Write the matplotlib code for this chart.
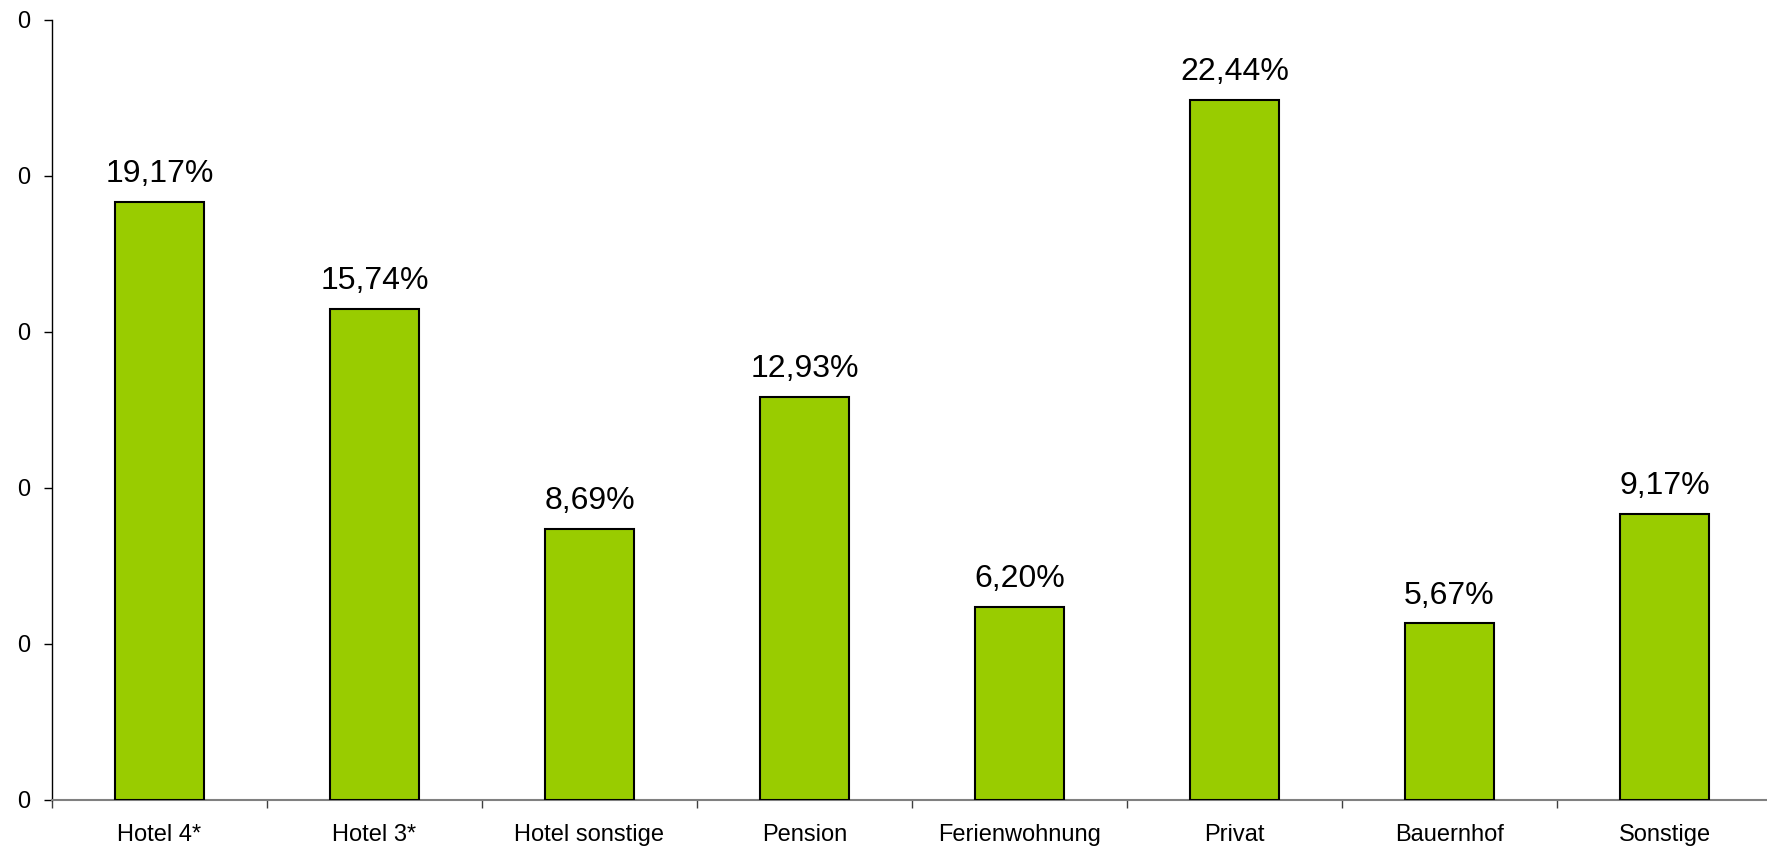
import matplotlib
matplotlib.use("Agg")
import matplotlib.pyplot as plt
from matplotlib.ticker import FixedLocator, FuncFormatter
import numpy as np

categories = ["Hotel 4*", "Hotel 3*", "Hotel sonstige", "Pension", "Ferienwohnung", "Privat", "Bauernhof", "Sonstige"]
values = [19.17, 15.74, 8.69, 12.93, 6.20, 22.44, 5.67, 9.17]
value_labels = ["19,17%", "15,74%", "8,69%", "12,93%", "6,20%", "22,44%", "5,67%", "9,17%"]
y_ticks = [0, 0.05, 0.10, 0.15, 0.20, 0.25]

plt.rcParams['font.family'] = ['Liberation Sans', 'DejaVu Sans']

W, H = 1767, 851
fig = plt.figure(figsize=(W / 100, H / 100), dpi=100)
left = 52 / W
bottom = (H - 800) / H
top = (H - 20) / H
right = 1772 / W
ax = fig.add_axes([left, bottom, right - left, top - bottom])

x = np.arange(len(categories)) + 0.5
fracs = [v / 100 for v in values]
bars = ax.bar(x, fracs, width=0.415, color="#99CC00", edgecolor="black", linewidth=1.5, zorder=3)

for xi, f, lab in zip(x, fracs, value_labels):
    ax.annotate(lab, (xi, f), xytext=(0, 9), textcoords="offset points",
                ha="center", va="bottom", fontsize=23)

ax.set_xlim(0, len(categories))
ax.set_ylim(0, 0.25)
ax.yaxis.set_major_locator(FixedLocator(y_ticks))
ax.yaxis.set_major_formatter(FuncFormatter(lambda v, p: "0"))
ax.tick_params(axis="y", direction="out", length=6, width=1, labelsize=17, pad=10, color="black")

ax.set_xticks(np.arange(len(categories) + 1))
ax.set_xticklabels([""] * (len(categories) + 1))
ax.set_xticks(x, minor=True)
ax.set_xticklabels(categories, minor=True)
ax.tick_params(axis="x", which="major", direction="out", length=6, width=1, color="#404040")
ax.tick_params(axis="x", which="minor", length=0, labelsize=17, pad=17)

ax.spines["top"].set_visible(False)
ax.spines["right"].set_visible(False)
ax.spines["left"].set_color("black")
ax.spines["left"].set_linewidth(1)
ax.spines["bottom"].set_color("#808080")
ax.spines["bottom"].set_linewidth(1.5)

fig.savefig("out.png", dpi=100)
